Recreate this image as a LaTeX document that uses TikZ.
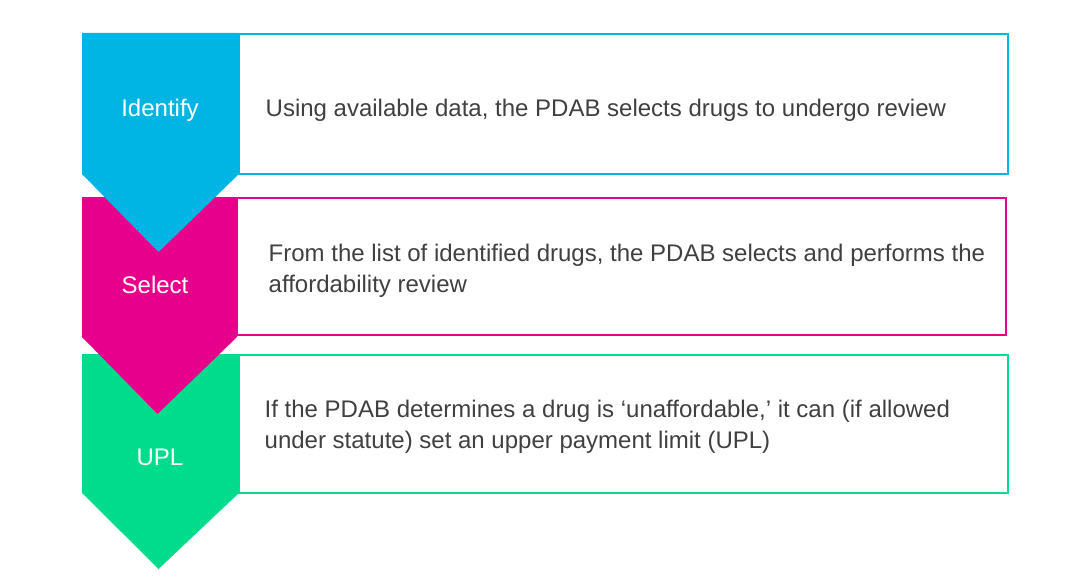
\documentclass[tikz,border=0pt]{standalone}
\usepackage{fontspec}
\setmainfont{Liberation Sans}
\definecolor{idblue}{RGB}{0,180,228}
\definecolor{selpink}{RGB}{230,0,140}
\definecolor{uplgreen}{RGB}{0,220,140}
\definecolor{txtgray}{RGB}{64,64,64}
\tikzset{
  steplabel/.style={text=white, font=\fontsize{18}{23}\selectfont},
  stepbox/.style={line width=1.5pt, fill=white},
  steptext/.style={anchor=west, align=left, text=txtgray, font=\fontsize{18}{23.25}\selectfont}
}
\begin{document}
\begin{tikzpicture}[x=0.75pt, y=-0.75pt]
        \useasboundingbox (0,0) rectangle (1077,585);
        % boxes
        \draw[stepbox, draw=idblue] (239,34) rectangle (1008,174);
        \draw[stepbox, draw=selpink] (237,198) rectangle (1006,335);
        \draw[stepbox, draw=uplgreen] (239,355) rectangle (1008,492.5);
        % chevrons, bottom first
        \fill[uplgreen] (82,354) -- (239,354) -- (239,493) -- (158.5,569) -- (82,493) -- cycle;
        \fill[selpink] (82,197) -- (237,197) -- (237,337) -- (157.5,414) -- (82,337) -- cycle;
        \fill[idblue] (82,33) -- (239,33) -- (239,174) -- (158.5,252) -- (82,174) -- cycle;
        \node[steplabel] (identify) at (160,110) {Identify};
        \node[steplabel] (select) at (155,285) {Select};
        \node[steplabel] (upl) at (160,457) {UPL};
        \node[steptext] (idtext) at (261,110) {Using available data, the PDAB selects drugs to undergo review};
        \node[steptext] (seltext) at (264,271) {From the list of identified drugs, the PDAB selects and performs the\\affordability review};
        \node[steptext] (upltext) at (260,427) {If the PDAB determines a drug is ‘unaffordable,’ it can (if allowed\\under statute) set an upper payment limit (UPL)};
    \end{tikzpicture}
\end{document}
